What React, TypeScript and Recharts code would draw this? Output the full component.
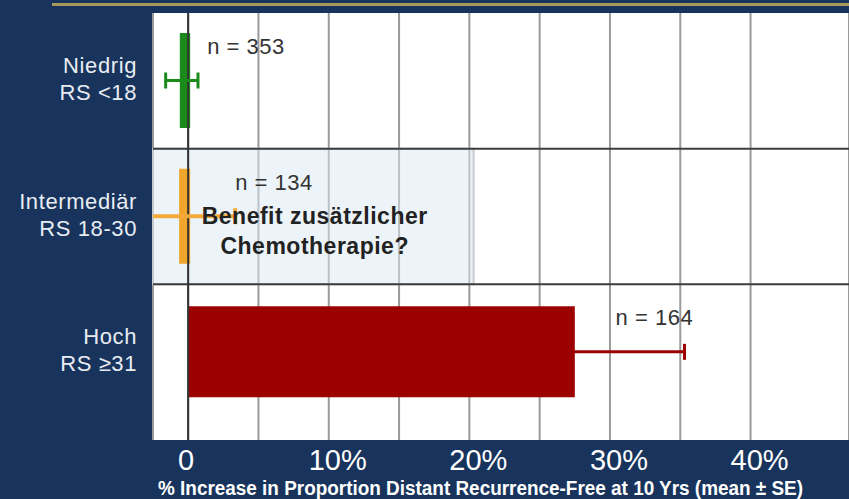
import React from "react";
import {
    BarChart,
    Bar,
    XAxis,
    YAxis,
    CartesianGrid,
    ErrorBar,
    ReferenceLine,
    ReferenceArea,
    ReferenceDot,
    Label,
} from "recharts";

// risk groups (Recurrence Score)
const groups = ["Niedrig", "Intermediär", "Hoch"];
const groupRanges = ["RS <18", "RS 18-30", "RS ≥31"];
// % increase in proportion distant recurrence-free at 10 yrs
const meanIncrease = [-0.45, -0.5, 27.5];
const standardError = [1.15, 3.85, 7.8];
const sampleSizes = [353, 134, 164];
const xTicks = [0, 5, 10, 15, 20, 25, 30, 35, 40];

const NAVY = "#18345c";
const barColors = ["#1a8a1a", "#f2a52c", "#9d0000"];
const errColors = ["#1a8a1a", "#f3aa38", "#9d0000"];
const FONT = "'Liberation Sans', Arial, sans-serif";

const data = groups.map((g, i) => {
    const row: Record<string, string | number> = { group: g };
    row[`v${i}`] = meanIncrease[i];
    row[`e${i}`] = standardError[i];
    return row;
});

const GroupTick = (props: any) => {
    const { x, y, payload } = props;
    const i = groups.indexOf(payload.value);
    return (
        <text x={x} y={y} textAnchor="end" fill="#e8ecf2" fontSize={22} fontFamily={FONT} letterSpacing={0.6}>
            <tspan x={x} dy={-8}>{payload.value}</tspan>
            <tspan x={x} dy={27}>{groupRanges[i]}</tspan>
        </text>
    );
};

const PercentTick = (props: any) => {
    const { x, y, payload } = props;
    const v = payload.value;
    if (v % 10 !== 0) return <g />;
    return (
        <text x={x} y={y} dx={v === 0 ? -2 : 9} dy={30} textAnchor="middle" fill="#ffffff" fontSize={29} fontFamily={FONT}>
            {v === 0 ? "0" : `${v}%`}
        </text>
    );
};

export default function App() {
    const nLabelAt = [1.35, 3.35, 30.4];
    return (
        <div style={{ position: "absolute", left: 0, top: 0, width: 849, height: 499, background: NAVY, overflow: "hidden" }}>
            <style>{".recharts-errorBar { clip-path: url(#plot-clip); }"}</style>
            <svg width={0} height={0} style={{ position: "absolute" }}>
                <defs>
                    <clipPath id="plot-clip" clipPathUnits="userSpaceOnUse">
                        <rect x={153} y={13} width={696} height={427} />
                    </clipPath>
                </defs>
            </svg>
            <div style={{ position: "absolute", left: 52, right: 0, top: 3, height: 3, background: "#a8985c" }} />
            <BarChart
                width={849}
                height={499}
                data={data}
                layout="vertical"
                margin={{ top: 13, right: 0, left: 0, bottom: 0 }}
                barGap={-91}
            >
                <CartesianGrid horizontal={false} stroke="#9a9a9a" strokeWidth={2} fill="#ffffff" fillOpacity={1} />
                <XAxis
                    type="number"
                    domain={[-2.5, 47]}
                    ticks={xTicks}
                    allowDataOverflow
                    axisLine={false}
                    tickLine={false}
                    tickSize={0}
                    tickMargin={0}
                    height={59}
                    tick={PercentTick}
                    interval={0}
                >
                    <Label
                        content={(p: any) => (
                            <text
                                x={p.viewBox.x + 5}
                                y={p.viewBox.y + 55}
                                fill="#ffffff"
                                fontSize={20}
                                fontWeight="bold"
                                fontFamily={FONT}
                                textLength={645}
                                lengthAdjust="spacingAndGlyphs"
                            >
                                % Increase in Proportion Distant Recurrence-Free at 10 Yrs (mean ± SE)
                            </text>
                        )}
                    />
                </XAxis>
                <YAxis
                    type="category"
                    dataKey="group"
                    width={153}
                    axisLine={false}
                    tickLine={false}
                    tickSize={0}
                    tickMargin={16}
                    padding={{ top: 0, bottom: 20 }}
                    tick={GroupTick}
                    interval={0}
                />
                <ReferenceLine y="Intermediär" position="start" stroke="#3c3c3c" strokeWidth={2} />
                <ReferenceArea
                    y1="Intermediär"
                    y2="Intermediär"
                    x2={20.3}
                    fill="#dbeaf4"
                    fillOpacity={0.5}
                    stroke="#c6cacf"
                    strokeWidth={2}
                />
                <ReferenceLine y="Hoch" position="start" stroke="#3c3c3c" strokeWidth={2} />
                <ReferenceLine x={0} stroke="#333333" strokeWidth={2} />
                {groups.map((g, i) => (
                    <Bar
                        key={g}
                        dataKey={`v${i}`}
                        fill={barColors[i]}
                        stroke={barColors[i]}
                        strokeWidth={i < 2 ? 4 : 0}
                        barSize={91}
                        isAnimationActive={false}
                    >
                        <ErrorBar
                            dataKey={`e${i}`}
                            direction="x"
                            width={8}
                            stroke={errColors[i]}
                            strokeWidth={i === 1 ? 4 : 3}
                        />
                    </Bar>
                ))}
                {groups.map((g, i) => (
                    <ReferenceDot
                        key={`n-${g}`}
                        x={nLabelAt[i]}
                        y={g}
                        r={0}
                        shape={(p: any) => (
                            <text x={p.cx} y={p.cy - 27} fill="#333333" fontSize={22} fontFamily={FONT} letterSpacing={0.5}>
                                n = {sampleSizes[i]}
                            </text>
                        )}
                    />
                ))}
                <ReferenceDot
                    x={9}
                    y="Intermediär"
                    r={0}
                    shape={(p: any) => (
                        <text x={p.cx} y={p.cy} textAnchor="middle" fill="#222222" fontSize={23} fontWeight="bold" fontFamily={FONT} letterSpacing={0.5}>
                            <tspan x={p.cx} dy={7}>Benefit zusätzlicher</tspan>
                            <tspan x={p.cx} dy={30}>Chemotherapie?</tspan>
                        </text>
                    )}
                />
            </BarChart>
        </div>
    );
}
